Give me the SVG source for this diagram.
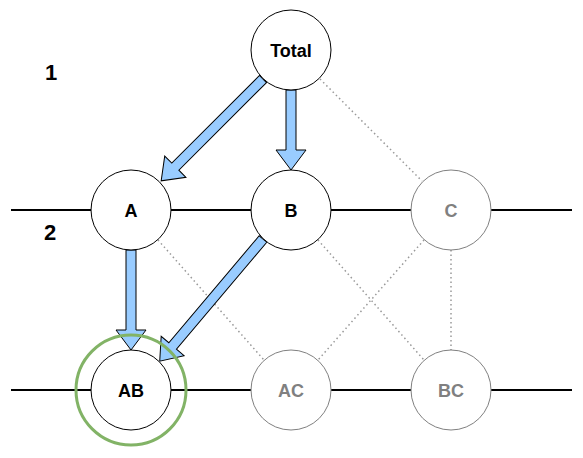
<svg xmlns="http://www.w3.org/2000/svg" width="583" height="458" viewBox="0 0 583 458">
<style>
.n{fill:#fff;stroke:#000;stroke-width:1}
.g{fill:#fff;stroke:#808080;stroke-width:1}
.t{font-family:"Liberation Sans",Arial,sans-serif;font-weight:bold;font-size:18px;text-anchor:middle;fill:#000}
.tg{fill:#808080}
.lvl{font-family:"Liberation Sans",Arial,sans-serif;font-weight:bold;font-size:22px;text-anchor:middle;fill:#000}
.row{stroke:#000;stroke-width:2;fill:none}
.dot{stroke:#999;stroke-width:1.5;stroke-dasharray:1.5 3;fill:none}
.arr{fill:#99ccff;stroke:#000;stroke-width:1;stroke-linejoin:miter}
</style>
<rect width="583" height="458" fill="#fff"/>
<g id="rows">
<line class="row" x1="11" y1="210" x2="572" y2="210"/>
<line class="row" x1="11" y1="390" x2="572" y2="390"/>
</g>
<g id="connectors">
<line class="dot" x1="320" y1="79" x2="422" y2="181"/>
<line class="dot" x1="158" y1="240" x2="264" y2="360"/>
<line class="dot" x1="318" y1="240" x2="424" y2="360"/>
<line class="dot" x1="424" y1="240" x2="318" y2="360"/>
<line class="dot" x1="451" y1="250" x2="451" y2="350"/>
<polygon class="arr" transform="translate(263,79) rotate(135)" points="0,-5 124,-5 124,-15 144,0 124,15 124,5 0,5"/>
<polygon class="arr" transform="translate(291,90) rotate(90)" points="0,-5 60,-5 60,-15 80,0 60,15 60,5 0,5"/>
<polygon class="arr" transform="translate(131,250) rotate(90)" points="0,-5 80,-5 80,-15 100,0 80,15 80,5 0,5"/>
<polygon class="arr" transform="translate(263,239) rotate(130.2)" points="0,-5 140,-5 140,-15 160,0 140,15 140,5 0,5"/>
</g>
<g id="label-1"><text class="lvl" x="51" y="80">1</text></g>
<g id="label-2"><text class="lvl" x="50" y="240">2</text></g>
<g id="node-total"><circle class="n" cx="291" cy="50" r="40"/><text class="t" x="291" y="56.5">Total</text></g>
<g id="node-a"><circle class="n" cx="131" cy="210" r="40"/><text class="t" x="131" y="216.5">A</text></g>
<g id="node-b"><circle class="n" cx="291" cy="210" r="40"/><text class="t" x="291" y="216.5">B</text></g>
<g id="node-c"><circle class="g" cx="451" cy="210" r="40"/><text class="t tg" x="451" y="216.5">C</text></g>
<g id="node-ab"><circle cx="131" cy="390" r="55" fill="none" stroke="#82b366" stroke-width="3"/><circle class="n" cx="131" cy="390" r="40"/><text class="t" x="131" y="396.5">AB</text></g>
<g id="node-ac"><circle class="g" cx="291" cy="390" r="40"/><text class="t tg" x="291" y="396.5">AC</text></g>
<g id="node-bc"><circle class="g" cx="451" cy="390" r="40"/><text class="t tg" x="451" y="396.5">BC</text></g>
</svg>
